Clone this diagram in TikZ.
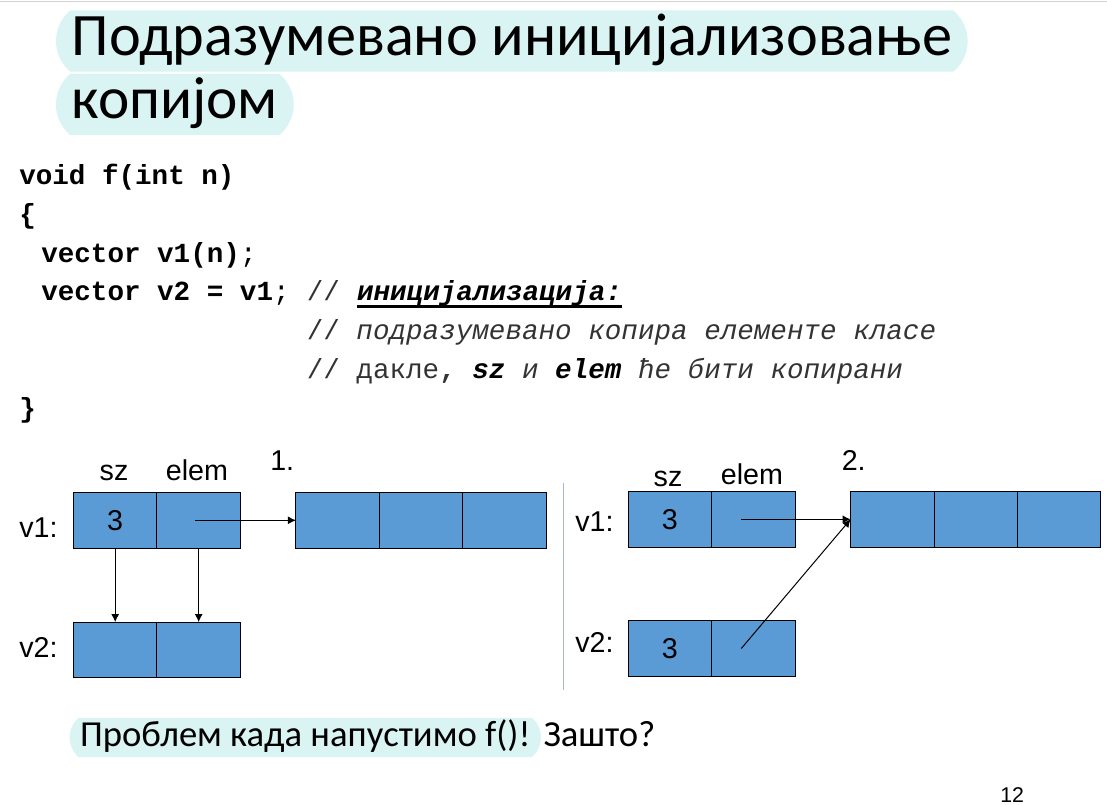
\documentclass[tikz,border=0pt]{standalone}
\usepackage{fontspec}
\setmainfont{Carlito}
\newfontfamily\codefont{Liberation Mono}
\newfontfamily\labelfont{Liberation Sans}
\usetikzlibrary{positioning,arrows.meta,shapes.misc}
\definecolor{cellblue}{RGB}{91,155,213}
\definecolor{hlcyan}{RGB}{218,243,243}
\definecolor{sepline}{RGB}{160,185,215}
\definecolor{topline}{RGB}{210,210,210}

\begin{document}
\begin{tikzpicture}[x=0.75pt,y=-0.75pt,>={Latex[length=6pt,width=6pt]},
    hl/.style={rounded rectangle, rounded rectangle arc length=100, fill=hlcyan, inner xsep=1pt, inner ysep=0pt},
    cell/.style={draw=black, fill=cellblue, line width=0.75pt, minimum width=62.6pt, minimum height=41.6pt, inner sep=0pt, outer sep=0pt, font=\labelfont\fontsize{21.5}{25}\selectfont},
    lbl/.style={inner sep=0pt, font=\labelfont\fontsize{21.5}{25}\selectfont},
    code/.style={inner sep=0pt, anchor=base west, font=\codefont\fontsize{20.7}{25}\selectfont},
    note/.style={code, text=black!80}]
    \useasboundingbox (0,0) rectangle (1107,805);
    \draw[topline, line width=1.2pt] (0,1.5) -- (1107,1.5);
    % title
    \node[hl, anchor=west, text height=33.4pt, text depth=12.5pt, font=\fontsize{45.2}{54}\selectfont] (title1) at (55.7,41.1) {Подразумевано иницијализовање};
    \node[hl, anchor=west, text height=33.4pt, text depth=12.5pt, font=\fontsize{44.5}{54}\selectfont] (title2) at (55.7,104.4) {копијом};
    % code
    \node[code] (line1) at (19,185) {\textbf{void f(int n)}};
    \node[code] (line2) at (19,224) {\textbf{\{}};
    \node[code] (line3) at (41,263) {\textbf{vector v1(n)};};
    \node[code] (line4) at (41,301) {\textbf{vector v2 = v1};};
    \node[note] (com4) at ([xshift=12.42pt]line4.base east) {//};
    \node[code] (init) at ([xshift=12.42pt]com4.base east) {\textbf{\textit{иницијализација:}}};
    \draw[line width=2.2pt] ([yshift=-3.8pt]init.base west) -- ([yshift=-3.8pt]init.base east);
    \node[note] (com5) at ([yshift=-29.25pt]com4.base west) {// \textit{подразумевано копира елементе класе}};
    \node[note] (com6) at ([yshift=-29.25pt]com5.base west) {// дакле\textbf{,} \textcolor{black}{\textbf{\textit{sz}}} \textit{и} \textcolor{black}{\textbf{\textit{elem}}} \textit{ће бити копирани}};
    \node[code] (line7) at (19,418) {\textbf{\}}};
    % case 1
    \node[lbl, anchor=base] (aSzLbl) at (114,481) {sz};
    \node[lbl, anchor=base] (aElemLbl) at (197,481) {elem};
    \node[lbl, anchor=base west] (step1) at (270,471) {1.};
    \node[lbl, anchor=west] (aV1) at (19,527.7) {v1:};
    \node[lbl, anchor=west] (aV2) at (19,647.7) {v2:};
    \node[cell] (aSz) at (115.2,520.3) {3};
    \node[cell, right=0pt of aSz] (aElem) {};
    \node[cell] (aArr1) at (337.6,520.3) {};
    \node[cell, right=0pt of aArr1] (aArr2) {};
    \node[cell, right=0pt of aArr2] (aArr3) {};
    \node[cell] (bSz) at (115.2,649.8) {};
    \node[cell, right=0pt of bSz] (bElem) {};
    \draw[->, line width=0.75pt] ([xshift=-3pt]aElem.center) -- (aArr1.west);
    \draw[->, line width=0.75pt] (aSz.south) -- (bSz.north);
    \draw[->, line width=0.75pt] (aElem.south) -- (bElem.north);
    % separator
    \draw[sepline, line width=0.75pt] (563,483) -- (563,690);
    % case 2
    \node[lbl, anchor=base] (cSzLbl) at (668,486.5) {sz};
    \node[lbl, anchor=base] (cElemLbl) at (752,484) {elem};
    \node[lbl, anchor=base west] (step2) at (841.5,471) {2.};
    \node[lbl, anchor=west] (cV1) at (575,521.3) {v1:};
    \node[lbl, anchor=west] (cV2) at (575,642) {v2:};
    \node[cell] (cSz) at (669.8,519.3) {3};
    \node[cell, right=0pt of cSz] (cElem) {};
    \node[cell] (cArr1) at (892.3,519.3) {};
    \node[cell, right=0pt of cArr1] (cArr2) {};
    \node[cell, right=0pt of cArr2] (cArr3) {};
    \node[cell] (dSz) at (669.8,648.5) {3};
    \node[cell, right=0pt of dSz] (dElem) {};
    \draw[->, line width=0.75pt] ([xshift=-9pt]cElem.center) -- (cArr1.west);
    \draw[->, line width=0.75pt] ([xshift=-9pt]dElem.center) -- (cArr1.west);
    % question
    \node[hl, anchor=west, text height=21.75pt, text depth=7.7pt, font=\fontsize{27.5}{33}\selectfont] (problem) at (69.3,737.4) {Проблем када напустимо f()!};
    \node[anchor=west, inner sep=0pt, text height=21.75pt, text depth=7.7pt, font=\fontsize{27.5}{33}\selectfont] (why) at ([xshift=1.5pt]problem.east) {Зашто?};
    \node[anchor=base west, inner sep=0pt, font=\labelfont\fontsize{16}{19}\selectfont] (pagenum) at (1000,802) {12};
\end{tikzpicture}
\end{document}
